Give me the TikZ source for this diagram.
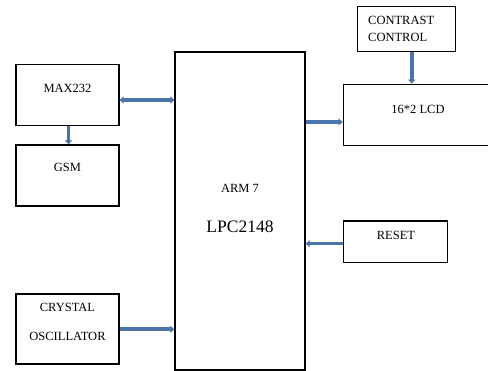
\documentclass[tikz,border=0pt]{standalone}
\usepackage{fontspec}
\setmainfont{Liberation Serif}
\usetikzlibrary{arrows.meta}
\definecolor{arrowblue}{HTML}{4A74AA}
\tikzset{
  blk/.style={draw=black, line width=1.3pt, fill=white, inner sep=0pt},
  lbl/.style={inner sep=0pt, font=\fontsize{12.5}{14}\selectfont},
  biglbl/.style={inner sep=0pt, font=\fontsize{17.5}{20}\selectfont},
  conn/.style={draw=arrowblue, line width=3.6pt, -{Triangle[width=7pt,length=4pt]}},
  bconn/.style={draw=arrowblue, line width=3.6pt, {Triangle[width=7pt,length=4pt]}-{Triangle[width=7pt,length=4pt]}}
}
\begin{document}
\begin{tikzpicture}[x=1pt,y=-1pt]
\useasboundingbox (0,0) rectangle (488,371);
\clip (0,0) rectangle (488,371);
\fill[white] (0,0) rectangle (488,371);
% boxes
\node[blk, minimum width=130pt, minimum height=318pt] (arm) at (240,211) {};
\node[blk, minimum width=103pt, minimum height=61pt] (max) at (67.5,95) {};
\node[blk, minimum width=103pt, minimum height=61pt] (gsm) at (67.5,175.5) {};
\node[blk, minimum width=103pt, minimum height=70pt] (xtal) at (67.5,329) {};
\node[blk, minimum width=98pt, minimum height=45pt] (con) at (406.7,29.2) {};
\node[blk, minimum width=160pt, minimum height=61.5pt] (lcd) at (423.3,115) {};
\node[blk, minimum width=104pt, minimum height=41.5pt] (rst) at (395.2,241.8) {};
% texts
\node[lbl] (tmax) at (67.5,88) {MAX232};
\node[lbl] (tgsm) at (67.5,167) {GSM};
\node[lbl] (txa) at (67.5,307.5) {CRYSTAL};
\node[lbl] (txb) at (67.5,336) {OSCILLATOR};
\node[lbl, anchor=west] (tca) at (368,20) {CONTRAST};
\node[lbl, anchor=west] (tcb) at (368,37) {CONTROL};
\node[lbl] (tlcd) at (418,109) {16*2 LCD};
\node[lbl] (trst) at (396,235) {RESET};
\node[lbl] (tarm) at (240,188) {ARM 7};
\node[biglbl] (tlpc) at (240,227) {LPC2148};
% connectors
\coordinate (c1) at (max.east |- 0,100);
\draw[bconn] (c1) -- (arm.west |- c1);
\draw[conn] (max.south -| 68.5,0) -- (gsm.north -| 68.5,0);
\coordinate (c2) at (arm.east |- 0,122);
\draw[conn] (c2) -- (lcd.west |- c2);
\draw[conn] (con.south -| 411.7,0) -- (lcd.north -| 411.7,0);
\coordinate (c3) at (rst.west |- 0,243.7);
\draw[conn] (c3) -- (arm.east |- c3);
\coordinate (c4) at (xtal.east |- 0,329.3);
\draw[conn] (c4) -- (arm.west |- c4);
\end{tikzpicture}
\end{document}
